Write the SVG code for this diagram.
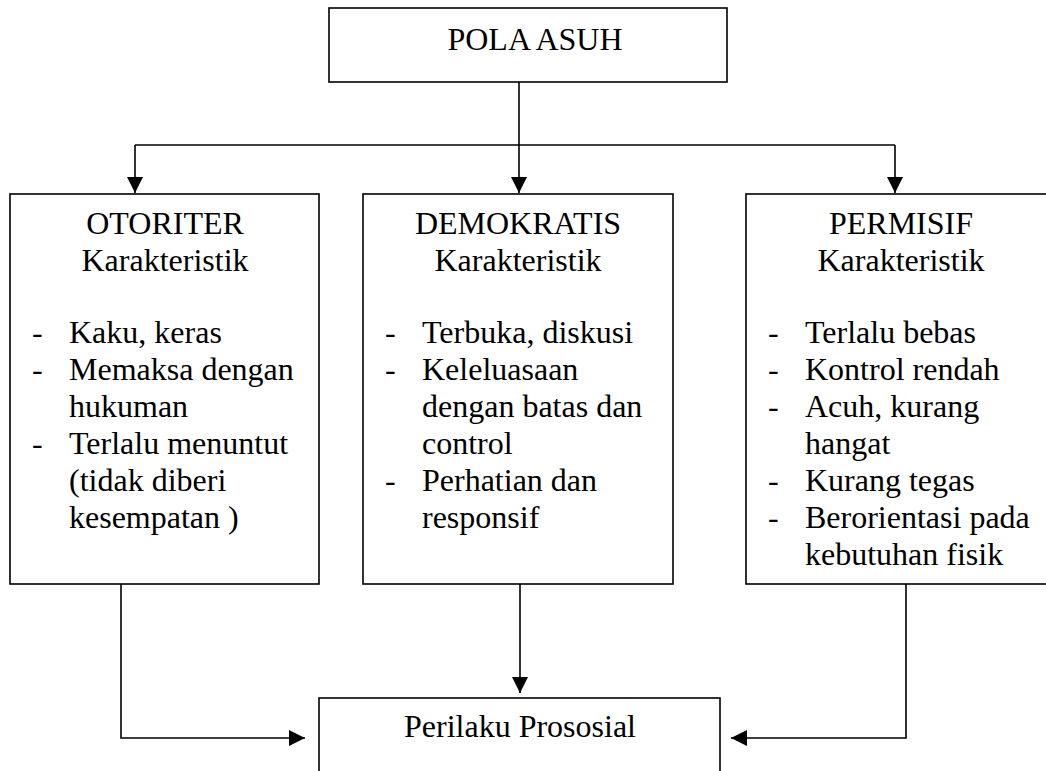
<svg xmlns="http://www.w3.org/2000/svg" width="1046" height="771" viewBox="0 0 1046 771">
<style>
.box{fill:#fff;stroke:#000;stroke-width:1.6}
.t{font-family:"Liberation Serif","Times New Roman",serif;font-size:32px;fill:#000}
.c{text-anchor:middle}
.ln{fill:none;stroke:#000;stroke-width:1.6}
</style>
<defs>
<marker id="ah" viewBox="0 0 16 16" refX="16" refY="8" markerWidth="16" markerHeight="16" markerUnits="userSpaceOnUse" orient="auto">
<path d="M0,0 L16,8 L0,16 Z" fill="#000"/>
</marker>
</defs>
<rect width="1046" height="771" fill="#fff"/>
<g id="connectors">
<line class="ln" x1="519" y1="82" x2="519" y2="145"/>
<line class="ln" x1="135" y1="145" x2="895" y2="145"/>
<line class="ln" x1="135" y1="145" x2="135" y2="193" marker-end="url(#ah)"/>
<line class="ln" x1="519" y1="145" x2="519" y2="193" marker-end="url(#ah)"/>
<line class="ln" x1="895" y1="145" x2="895" y2="193" marker-end="url(#ah)"/>
<polyline class="ln" points="121,584 121,738 305,738" marker-end="url(#ah)"/>
<line class="ln" x1="520" y1="584" x2="520" y2="693" marker-end="url(#ah)"/>
<polyline class="ln" points="906,584 906,738 731,738" marker-end="url(#ah)"/>
</g>
<g id="pola-asuh">
<rect class="box" x="329" y="8" width="398" height="74"/>
<text class="t c" x="535" y="50">POLA ASUH</text>
</g>
<g id="otoriter">
<rect class="box" x="10" y="194" width="309" height="390"/>
<text class="t c" x="165" y="234">OTORITER</text>
<text class="t c" x="165" y="271">Karakteristik</text>
<text class="t" x="32" y="343">-</text><text class="t" x="69" y="343">Kaku, keras</text>
<text class="t" x="32" y="380">-</text><text class="t" x="69" y="380">Memaksa dengan</text>
<text class="t" x="69" y="417">hukuman</text>
<text class="t" x="32" y="454">-</text><text class="t" x="69" y="454">Terlalu menuntut</text>
<text class="t" x="69" y="491">(tidak diberi</text>
<text class="t" x="69" y="528">kesempatan )</text>
</g>
<g id="demokratis">
<rect class="box" x="363" y="194" width="310" height="390"/>
<text class="t c" x="518" y="234">DEMOKRATIS</text>
<text class="t c" x="518" y="271">Karakteristik</text>
<text class="t" x="385" y="343">-</text><text class="t" x="422" y="343">Terbuka, diskusi</text>
<text class="t" x="385" y="380">-</text><text class="t" x="422" y="380">Keleluasaan</text>
<text class="t" x="422" y="417">dengan batas dan</text>
<text class="t" x="422" y="454">control</text>
<text class="t" x="385" y="491">-</text><text class="t" x="422" y="491">Perhatian dan</text>
<text class="t" x="422" y="528">responsif</text>
</g>
<g id="permisif">
<rect class="box" x="746" y="194" width="310" height="390"/>
<text class="t c" x="901" y="234">PERMISIF</text>
<text class="t c" x="901" y="271">Karakteristik</text>
<text class="t" x="768" y="343">-</text><text class="t" x="805" y="343">Terlalu bebas</text>
<text class="t" x="768" y="380">-</text><text class="t" x="805" y="380">Kontrol rendah</text>
<text class="t" x="768" y="417">-</text><text class="t" x="805" y="417">Acuh, kurang</text>
<text class="t" x="805" y="454">hangat</text>
<text class="t" x="768" y="491">-</text><text class="t" x="805" y="491">Kurang tegas</text>
<text class="t" x="768" y="528">-</text><text class="t" x="805" y="528">Berorientasi pada</text>
<text class="t" x="805" y="565">kebutuhan fisik</text>
</g>
<g id="perilaku-prososial">
<rect class="box" x="319" y="698" width="401" height="90"/>
<text class="t c" x="520" y="737">Perilaku Prososial</text>
</g>
</svg>
